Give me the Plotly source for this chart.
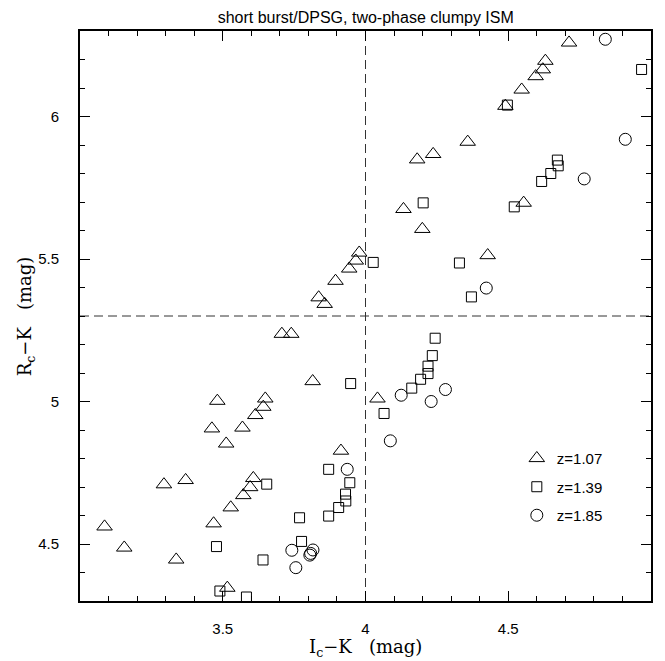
import plotly.graph_objects as go

# Colour-colour data: I_c-K (x) and R_c-K (y) for three redshifts
tri_x = [4.181, 4.237, 4.133, 4.713, 4.630, 4.621, 4.596, 4.547, 4.490, 4.358,
         4.554, 4.428, 4.199, 3.978, 3.966, 3.943, 3.895, 3.836, 3.857, 3.707,
         3.740, 3.815, 3.649, 4.042, 3.642, 3.614, 3.914, 3.607, 3.596, 3.572,
         3.481, 3.462, 3.569, 3.512, 3.294, 3.370, 3.528, 3.468, 3.086, 3.155,
         3.337, 3.516]
tri_y = [5.849, 5.868, 5.675, 6.259, 6.195, 6.165, 6.141, 6.094, 6.037, 5.911,
         5.697, 5.513, 5.605, 5.522, 5.494, 5.466, 5.423, 5.365, 5.342, 5.237,
         5.237, 5.071, 5.010, 5.010, 4.981, 4.952, 4.827, 4.731, 4.699, 4.671,
         5.002, 4.905, 4.908, 4.852, 4.709, 4.724, 4.628, 4.572, 4.561, 4.487,
         4.445, 4.346]

sq_x = [4.202, 4.967, 4.497, 4.672, 4.675, 4.649, 4.617, 4.521, 4.329, 4.371,
        4.027, 4.244, 4.234, 4.219, 4.219, 4.193, 3.948, 4.162, 4.065, 3.871,
        3.654, 3.945, 3.930, 3.931, 3.906, 3.871, 3.769, 3.776, 3.641, 3.478,
        3.490, 3.583]
sq_y = [5.697, 6.165, 6.040, 5.847, 5.827, 5.800, 5.772, 5.683, 5.486, 5.367,
        5.488, 5.222, 5.161, 5.124, 5.098, 5.078, 5.063, 5.047, 4.958, 4.762,
        4.710, 4.715, 4.675, 4.651, 4.628, 4.598, 4.592, 4.509, 4.444, 4.491,
        4.335, 4.314]

circ_x = [4.840, 4.910, 4.766, 4.423, 4.280, 4.125, 4.230, 4.087, 3.936, 3.742,
          3.816, 3.808, 3.805, 3.756]
circ_y = [6.271, 5.920, 5.781, 5.398, 5.042, 5.022, 5.000, 4.862, 4.762, 4.478,
          4.479, 4.467, 4.461, 4.417]

series_names = ["z=1.07", "z=1.39", "z=1.85"]

X_RANGE = [3.0, 5.0]
Y_RANGE = [4.3, 6.3]
X_SPLIT = 4.0
Y_SPLIT = 5.3
x_tick_vals = [3.5, 4.0, 4.5]
x_tick_text = ["3.5", "4", "4.5"]
y_tick_vals = [4.5, 5.0, 5.5, 6.0]
y_tick_text = ["4.5", "5", "5.5", "6"]

SANS = "Liberation Sans, Arial, Helvetica, sans-serif"
SERIF = "DejaVu Serif, serif"

fig = go.Figure()

groups = [
    (tri_x, tri_y, "triangle-up-open", 13.5),
    (sq_x, sq_y, "square-open", 10),
    (circ_x, circ_y, "circle-open", 12),
]
for (xs, ys, sym, size), name in zip(groups, series_names):
    fig.add_trace(go.Scatter(
        x=xs, y=ys, mode="markers", name=name, legendgroup=name,
        marker=dict(symbol=sym, size=size, color="black",
                    line=dict(color="black", width=1)),
    ))

# Dashed dividing lines
fig.add_shape(type="line", xref="x", yref="paper", x0=X_SPLIT, x1=X_SPLIT,
              y0=0, y1=1, line=dict(color="#333333", width=1, dash="9px,5px"),
              layer="below")
fig.add_shape(type="line", xref="paper", yref="y", x0=0, x1=1,
              y0=Y_SPLIT, y1=Y_SPLIT,
              line=dict(color="#333333", width=1, dash="9px,5px"),
              layer="below")

axis_common = dict(
    showgrid=False, zeroline=False, showline=True, linecolor="black",
    linewidth=1.8, mirror="allticks", ticks="inside", ticklen=10,
    tickwidth=1, tickcolor="black",
    tickfont=dict(family=SANS, size=15, color="black"),
    minor=dict(ticks="inside", ticklen=5, tickwidth=1, tickcolor="black",
               dtick=0.1, tick0=0, showgrid=False),
)

fig.update_xaxes(range=X_RANGE, tickmode="array", tickvals=x_tick_vals,
                 ticktext=x_tick_text, ticklabelstandoff=13, **axis_common)
fig.update_yaxes(range=Y_RANGE, tickmode="array", tickvals=y_tick_vals,
                 ticktext=y_tick_text, ticklabelstandoff=16, **axis_common)

fig.add_annotation(text="I<sub>c</sub>\u2212K\u00a0\u00a0\u00a0(mag)",
                   xref="paper", yref="paper", x=0.5, y=-0.083,
                   xanchor="center", yanchor="middle", showarrow=False,
                   font=dict(family=SERIF, size=18, color="black"))
fig.add_annotation(text="R<sub>c</sub>\u2212K\u00a0\u00a0\u00a0(mag)",
                   xref="paper", yref="paper", x=-0.094, y=0.5,
                   xanchor="center", yanchor="middle", textangle=-90,
                   showarrow=False,
                   font=dict(family=SERIF, size=18, color="black"))

fig.update_layout(
    width=665, height=661,
    margin=dict(l=80, r=14, t=31, b=60),
    paper_bgcolor="white", plot_bgcolor="white",
    title=dict(text="short burst/DPSG, two-phase clumpy ISM",
               x=0.55, xanchor="center", y=1 - 17 / 661, yanchor="middle",
               font=dict(family=SANS, size=16, color="black")),
    showlegend=True,
    legend=dict(x=0.765, y=0.279, xanchor="left", yanchor="top",
                bgcolor="rgba(0,0,0,0)", borderwidth=0,
                font=dict(family=SANS, size=15, color="black"),
                tracegroupgap=6, itemsizing="trace"),
)

fig.write_html("out.html")
